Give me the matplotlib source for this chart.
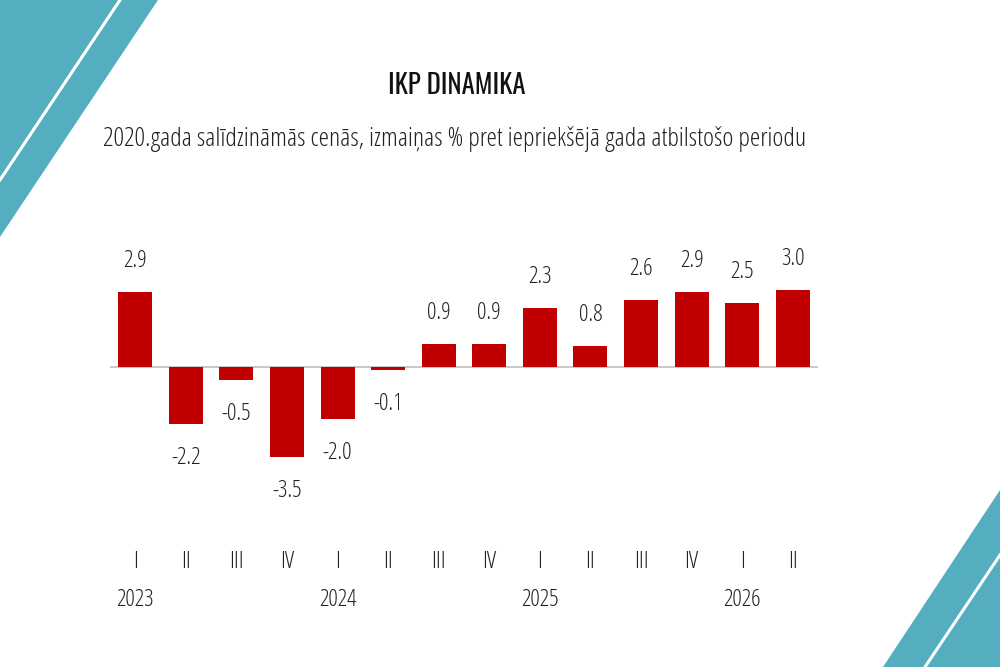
import matplotlib
matplotlib.use("Agg")
import matplotlib.pyplot as plt
from matplotlib.patches import Polygon
from matplotlib.lines import Line2D

plt.rcParams['font.family'] = ['Open Sans', 'DejaVu Sans']
plt.rcParams['font.stretch'] = 'condensed'
plt.rcParams['font.weight'] = 300

quarters = ['I', 'II', 'III', 'IV', 'I', 'II', 'III', 'IV', 'I', 'II', 'III', 'IV', 'I', 'II']
years = ['2023', '2024', '2025', '2026']
year_pos = [0, 4, 8, 12]
values = [2.9, -2.2, -0.5, -3.5, -2.0, -0.1, 0.9, 0.9, 2.3, 0.8, 2.6, 2.9, 2.5, 3.0]

title = 'IKP DINAMIKA'
subtitle = '2020.gada salīdzināmās cenās, izmaiņas % pret iepriekšējā gada atbilstošo periodu'

bar_color = '#C00000'
teal = '#55AEBF'
text_color = '#222222'

W, H = 1000, 667
fig = plt.figure(figsize=(10, 6.67), dpi=100)

def fc(x, y):
    return (x / W, 1 - y / H)

def fit_width(t, target_px):
    r = fig.canvas.get_renderer()
    w = t.get_window_extent(renderer=r).width
    t.set_fontsize(t.get_fontsize() * target_px / w)

# corner decorations
fig.patches.append(Polygon([fc(0, 0), fc(158, 0), fc(0, 237)], closed=True,
                           facecolor=teal, edgecolor='none', transform=fig.transFigure))
fig.patches.append(Polygon([fc(1000, 490), fc(1000, 667), fc(883, 667)], closed=True,
                           facecolor=teal, edgecolor='none', transform=fig.transFigure))
for p1, p2 in [((120, 0), (0, 180)), ((1000, 555), (925, 667))]:
    a, b = fc(*p1), fc(*p2)
    fig.lines.append(Line2D([a[0], b[0]], [a[1], b[1]], color='white', lw=2.2,
                            transform=fig.transFigure))

ax = fig.add_axes([110 / W, 1 - 480 / H, 708 / W, 260 / H])
x = list(range(len(values)))
ax.bar(x, values, width=0.67, color=bar_color, zorder=2)
ax.axhline(0, color='#BFBFBF', lw=1.2, zorder=1)
ax.set_xlim(-0.5, 13.5)
ax.set_ylim(-4.38, 5.70)
ax.axis('off')

for xi, v in zip(x, values):
    off = 31 if v >= 0 else -34
    ax.annotate(f'{v:.1f}', (xi, v), xytext=(0, off), textcoords='offset pixels',
                ha='center', va='center', fontsize=17, color=text_color)

tr = ax.get_xaxis_transform()
for xi, q in zip(x, quarters):
    ax.text(xi, -0.315, q, transform=tr, ha='center', va='center', fontsize=17, color=text_color)
for xi, yr in zip(year_pos, years):
    ax.text(xi, -0.4615, yr, transform=tr, ha='center', va='center', fontsize=17, color=text_color)

t1 = fig.text(457 / W, 1 - 86 / H, title, ha='center', va='center', fontsize=20,
              family=['Oswald', 'Open Sans Condensed', 'Open Sans'], fontweight='normal',
              fontstretch='normal', color='#111111')
t2 = fig.text(455 / W, 1 - 139 / H, subtitle, ha='center', va='center', fontsize=16,
              color=text_color)
fit_width(t1, 137)
fit_width(t2, 705)

fig.savefig('out.png', dpi=100)
